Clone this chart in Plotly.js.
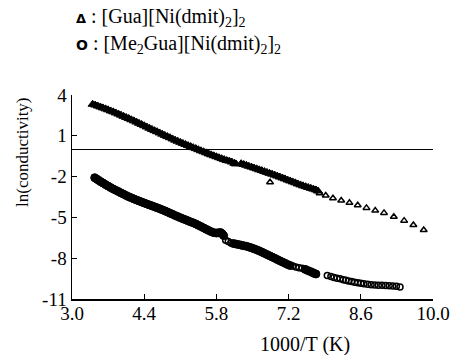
<!DOCTYPE html>
<html>
<head>
<meta charset="utf-8">
<script src="https://cdn.plot.ly/plotly-3.0.1.min.js"></script>
<style>html,body{margin:0;padding:0;background:#fff;}#chart{width:450px;height:355px;}</style>
</head>
<body>
<div id="chart"></div>
<script>
// [Gua][Ni(dmit)2]2  (triangles) - densely overlapping readings
const guaDenseX = [3.40,3.45,3.50,3.55,3.60,3.65,3.70,3.75,3.80,3.85,3.90,3.95,4.00,4.05,4.10,4.15,4.20,4.25,4.30,4.35,4.40,4.45,4.50,4.55,4.60,4.65,4.70,4.75,4.80,4.85,4.90,4.95,5.00,5.05,5.10,5.15,5.20,5.25,5.30,5.35,5.40,5.45,5.50,5.55,5.60,5.65,5.70,5.75,5.80,5.85,5.90,5.95,6.00,6.05,6.10,6.15,6.18,
  6.28,6.33,6.38,6.43,6.48,6.53,6.58,6.63,6.68,6.73,6.78,6.83,6.88,6.93,6.98,7.03,7.08,7.13,7.18,7.23,7.28,7.33,7.38,7.43,7.48,7.53,7.58,7.63,7.68,7.73,7.77];
const guaDenseY = [3.32,3.26,3.19,3.12,3.05,2.98,2.91,2.83,2.76,2.68,2.60,2.52,2.43,2.35,2.27,2.18,2.10,2.01,1.92,1.83,1.74,1.65,1.56,1.47,1.38,1.30,1.21,1.12,1.03,0.94,0.86,0.77,0.68,0.60,0.52,0.44,0.36,0.28,0.21,0.13,0.06,-0.02,-0.10,-0.17,-0.25,-0.33,-0.40,-0.47,-0.54,-0.61,-0.68,-0.75,-0.82,-0.86,-0.93,-1.02,-1.07,
  -1.05,-1.11,-1.17,-1.24,-1.30,-1.37,-1.43,-1.50,-1.56,-1.63,-1.69,-1.76,-1.82,-1.89,-1.96,-2.03,-2.10,-2.17,-2.25,-2.32,-2.39,-2.46,-2.54,-2.61,-2.68,-2.74,-2.80,-2.86,-2.92,-2.98,-3.06];
// [Gua][Ni(dmit)2]2 - separately visible triangles
const guaSparseX = [6.84, 7.80,7.92,8.06,8.22,8.38,8.54,8.71,8.88,9.05,9.24,9.44,9.62,9.82];
const guaSparseY = [-2.42, -3.22,-3.39,-3.59,-3.76,-3.93,-4.11,-4.30,-4.50,-4.67,-4.95,-5.24,-5.56,-5.93];

// [Me2Gua][Ni(dmit)2]2  (circles) - densely overlapping readings
const meGuaDenseX = [3.44,3.48,3.52,3.56,3.60,3.65,3.70,3.75,3.80,3.85,3.90,3.95,4.00,4.05,4.10,4.15,4.20,4.25,4.30,4.35,4.40,4.45,4.50,4.55,4.60,4.65,4.70,4.75,4.80,4.85,4.90,4.95,5.00,5.05,5.10,5.15,5.20,5.25,5.30,5.35,5.40,5.45,5.50,5.55,5.60,5.65,5.70,5.75,5.80,5.84,5.88,5.91,5.94,
  6.13,6.18,6.23,6.28,6.33,6.38,6.43,6.48,6.53,6.58,6.63,6.68,6.73,6.78,6.83,6.88,6.93,6.98,7.03,7.08,7.13,7.18,7.23,
  7.52,7.57,7.62,7.66,7.70,7.73];
const meGuaDenseY = [-2.08,-2.18,-2.28,-2.38,-2.47,-2.59,-2.70,-2.81,-2.91,-3.01,-3.10,-3.20,-3.29,-3.39,-3.48,-3.56,-3.64,-3.72,-3.79,-3.87,-3.94,-4.01,-4.08,-4.15,-4.22,-4.29,-4.36,-4.44,-4.52,-4.60,-4.69,-4.77,-4.86,-4.94,-5.02,-5.10,-5.17,-5.25,-5.33,-5.40,-5.48,-5.58,-5.67,-5.77,-5.87,-5.96,-6.05,-6.12,-6.15,-6.13,-6.11,-6.20,-6.34,
  -6.92,-6.96,-7.00,-7.04,-7.08,-7.12,-7.18,-7.24,-7.31,-7.38,-7.46,-7.55,-7.64,-7.73,-7.82,-7.91,-8.00,-8.10,-8.19,-8.28,-8.37,-8.46,-8.54,
  -8.82,-8.90,-8.98,-9.05,-9.12,-9.16];
// [Me2Gua][Ni(dmit)2]2 - separately visible circles
const meGuaOpenX = [5.98,6.03,6.08, 7.28,7.34,7.40,7.46,
  7.95,8.02,8.08,8.14,8.20,8.26,8.31,8.36,8.42,8.48,8.54,8.60,8.66,8.73,8.80,8.87,8.94,9.01,9.08,9.15,9.22,9.29,9.36];
const meGuaOpenY = [-6.68,-6.78,-6.88, -8.58,-8.64,-8.70,-8.74,
  -9.28,-9.34,-9.41,-9.47,-9.52,-9.58,-9.63,-9.68,-9.72,-9.76,-9.80,-9.84,-9.88,-9.92,-9.95,-9.97,-9.98,-9.99,-10.01,-10.02,-10.04,-10.07,-10.12];

const xTickVals = [3.0, 4.4, 5.8, 7.2, 8.6, 10.0];
const xTickText = ["3.0", "4.4", "5.8", "7.2", "8.6", "10.0"];
const yTickVals = [4, 1, -2, -5, -8, -11];
const yTickText = ["4", "1", "-2", "-5", "-8", "-11"];

const legendTexts = [
  '<span style="font-family:DejaVu Sans;font-size:13px"><b>Δ</b></span> : [Gua][Ni(dmit)<sub>2</sub>]<sub>2</sub>',
  '<span style="font-family:DejaVu Sans;font-size:14px"><b>O</b></span> : [Me<sub>2</sub>Gua][Ni(dmit)<sub>2</sub>]<sub>2</sub>'
];
const xTitle = '1000/T (K)';
const yTitle = 'ln(conductivity)';

const FONT = "'Liberation Serif', serif";
const BLACK = '#000';

const traces = [
  {x: guaDenseX, y: guaDenseY, type: 'scatter', mode: 'markers', hoverinfo: 'skip',
   marker: {symbol: 'triangle-up', size: 8, color: BLACK, line: {width: 1, color: BLACK}}},
  {x: guaSparseX, y: guaSparseY, type: 'scatter', mode: 'markers',
   marker: {symbol: 'triangle-up-open', size: 6, color: BLACK, line: {width: 1.5, color: BLACK}}},
  {x: meGuaDenseX, y: meGuaDenseY, type: 'scatter', mode: 'markers', hoverinfo: 'skip',
   marker: {symbol: 'circle', size: 8, color: BLACK, line: {width: 1, color: BLACK}}},
  {x: meGuaOpenX, y: meGuaOpenY, type: 'scatter', mode: 'markers',
   marker: {symbol: 'circle-open', size: 6, color: BLACK, line: {width: 1.5, color: BLACK}}}
];

const W = 450, H = 355, L = 72, R = 17, T = 95, B = 56;
const pw = W - L - R, ph = H - T - B;
const px = v => (v - L) / pw;
const py = v => (H - B - v) / ph;

const layout = {
  width: W, height: H,
  margin: {l: L, r: R, t: T, b: B},
  paper_bgcolor: '#fff', plot_bgcolor: '#fff',
  showlegend: false,
  font: {family: FONT, size: 20, color: BLACK},
  xaxis: {
    range: [3, 10], tickmode: 'array', tickvals: xTickVals, ticktext: xTickText,
    ticks: 'inside', ticklen: 5, tickwidth: 1, tickcolor: BLACK,
    ticklabelstandoff: -3, ticklabeloverflow: 'allow',
    showline: true, linecolor: BLACK, linewidth: 1.5, mirror: false,
    showgrid: false, zeroline: false,
    tickfont: {family: FONT, size: 19, color: BLACK}
  },
  yaxis: {
    range: [-11, 4], tickmode: 'array', tickvals: yTickVals, ticktext: yTickText,
    ticks: 'inside', ticklen: 5, tickwidth: 1, tickcolor: BLACK,
    showline: true, linecolor: BLACK, linewidth: 1.5, mirror: false,
    showgrid: false, zeroline: true, zerolinecolor: BLACK, zerolinewidth: 1.5,
    tickfont: {family: FONT, size: 19, color: BLACK}
  },
  annotations: [
    {xref: 'paper', yref: 'paper', x: px(74), y: py(17), xanchor: 'left', yanchor: 'middle',
     text: legendTexts[0], showarrow: false, font: {family: FONT, size: 20, color: BLACK}},
    {xref: 'paper', yref: 'paper', x: px(74), y: py(44), xanchor: 'left', yanchor: 'middle',
     text: legendTexts[1], showarrow: false, font: {family: FONT, size: 20, color: BLACK}},
    {xref: 'paper', yref: 'paper', x: px(305), y: py(344), xanchor: 'center', yanchor: 'middle',
     text: xTitle, showarrow: false, font: {family: FONT, size: 20, color: BLACK}},
    {xref: 'paper', yref: 'paper', x: px(22), y: py(152), xanchor: 'center', yanchor: 'middle',
     text: yTitle, textangle: -90, showarrow: false, font: {family: FONT, size: 17, color: BLACK}}
  ]
};

Plotly.newPlot('chart', traces, layout, {displayModeBar: false, staticPlot: true});
</script>
</body>
</html>
